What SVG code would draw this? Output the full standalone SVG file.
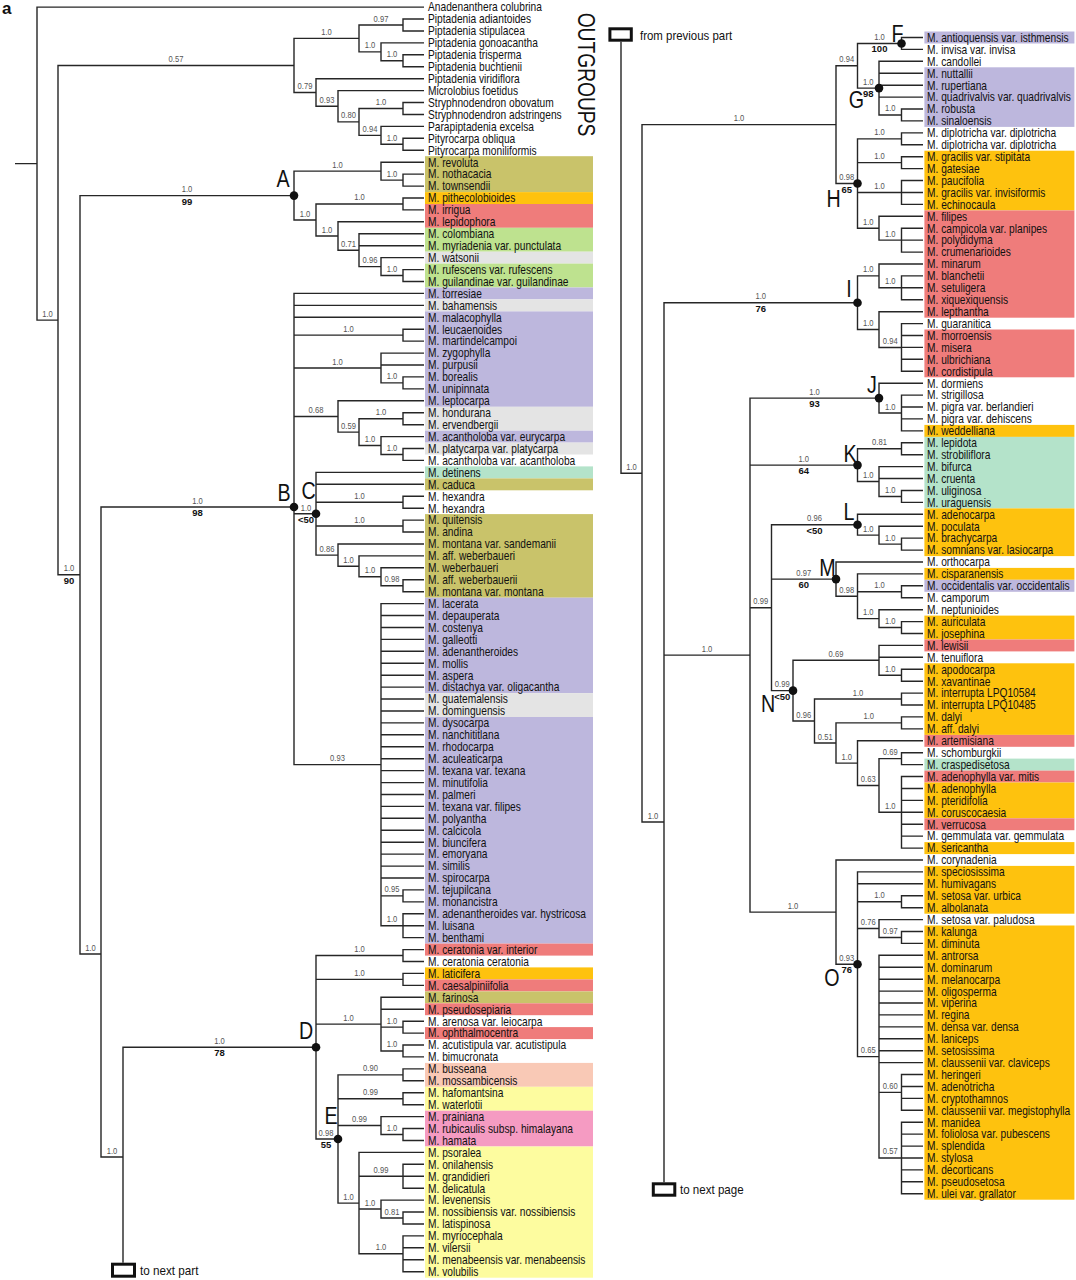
<svg xmlns="http://www.w3.org/2000/svg" width="1076" height="1280" viewBox="0 0 1076 1280">
<style>
.e{fill:none;stroke:#262626;stroke-width:1.4}
.l{font-family:'Liberation Sans',Arial,sans-serif;font-size:12px;fill:#111}
.s{font-family:'Liberation Sans',Arial,sans-serif;font-size:9.5px;fill:#555;text-anchor:middle}
.b{font-family:'Liberation Sans',Arial,sans-serif;font-size:9.5px;font-weight:bold;fill:#111;text-anchor:middle}
.k{font-family:'Liberation Sans',Arial,sans-serif;font-size:24px;fill:#111;text-anchor:middle}
.t{font-family:'Liberation Sans',Arial,sans-serif;font-size:13px;fill:#111}
.box{fill:#fff;stroke:#111;stroke-width:3}
.dot{fill:#111}
.ol{fill:#c9c36a}.or{fill:#fec20e}.rd{fill:#ef7c7b}.gr{fill:#bee28f}.gy{fill:#e4e4e4}.lv{fill:#bdb7dd}.mt{fill:#b4e3ca}.pc{fill:#f9c9b6}.ly{fill:#fdfc9f}.pk{fill:#f59bc2}
</style>
<rect width="1076" height="1280" fill="#fff"/>
<g id="bands">
<rect class="ol" x="425" y="156.2" width="168" height="35.9"/>
<rect class="or" x="425" y="192.1" width="168" height="11.9"/>
<rect class="rd" x="425" y="204" width="168" height="23.8"/>
<rect class="gr" x="425" y="227.8" width="168" height="23.9"/>
<rect class="gy" x="425" y="251.7" width="168" height="11.9"/>
<rect class="gr" x="425" y="263.6" width="168" height="23.9"/>
<rect class="lv" x="425" y="287.5" width="168" height="11.9"/>
<rect class="gy" x="425" y="299.4" width="168" height="12"/>
<rect class="lv" x="425" y="311.4" width="168" height="95.4"/>
<rect class="gy" x="425" y="406.8" width="168" height="23.9"/>
<rect class="lv" x="425" y="430.7" width="168" height="11.9"/>
<rect class="gy" x="425" y="442.6" width="168" height="11.9"/>
<rect class="mt" x="425" y="466.4" width="168" height="12"/>
<rect class="ol" x="425" y="478.4" width="168" height="11.9"/>
<rect class="ol" x="425" y="514.1" width="168" height="83.6"/>
<rect class="lv" x="425" y="597.7" width="168" height="95.4"/>
<rect class="gy" x="425" y="693.1" width="168" height="23.9"/>
<rect class="lv" x="425" y="717" width="168" height="226.6"/>
<rect class="rd" x="425" y="943.6" width="168" height="12"/>
<rect class="or" x="425" y="967.4" width="168" height="12"/>
<rect class="rd" x="425" y="979.4" width="168" height="12"/>
<rect class="ol" x="425" y="991.4" width="168" height="11.9"/>
<rect class="rd" x="425" y="1003.3" width="168" height="11.9"/>
<rect class="rd" x="425" y="1027.1" width="168" height="12"/>
<rect class="pc" x="425" y="1062.9" width="168" height="23.9"/>
<rect class="ly" x="425" y="1086.8" width="168" height="23.9"/>
<rect class="pk" x="425" y="1110.7" width="168" height="35.8"/>
<rect class="ly" x="425" y="1146.5" width="168" height="131.2"/>
<rect class="lv" x="924.4" y="31.5" width="150" height="12"/>
<rect class="lv" x="924.4" y="67.3" width="150" height="59.6"/>
<rect class="or" x="924.4" y="150.7" width="150" height="59.7"/>
<rect class="rd" x="924.4" y="210.4" width="150" height="107.3"/>
<rect class="rd" x="924.4" y="329.5" width="150" height="47.8"/>
<rect class="or" x="924.4" y="424.9" width="150" height="12"/>
<rect class="mt" x="924.4" y="436.9" width="150" height="71.5"/>
<rect class="or" x="924.4" y="508.4" width="150" height="47.7"/>
<rect class="or" x="924.4" y="567.9" width="150" height="11.9"/>
<rect class="lv" x="924.4" y="579.8" width="150" height="12"/>
<rect class="or" x="924.4" y="615.6" width="150" height="23.9"/>
<rect class="rd" x="924.4" y="639.5" width="150" height="11.9"/>
<rect class="or" x="924.4" y="663.3" width="150" height="71.6"/>
<rect class="rd" x="924.4" y="734.9" width="150" height="11.9"/>
<rect class="mt" x="924.4" y="758.6" width="150" height="12"/>
<rect class="rd" x="924.4" y="770.6" width="150" height="11.9"/>
<rect class="or" x="924.4" y="782.5" width="150" height="35.8"/>
<rect class="rd" x="924.4" y="818.3" width="150" height="11.9"/>
<rect class="or" x="924.4" y="842.1" width="150" height="12"/>
<rect class="or" x="924.4" y="865.9" width="150" height="47.8"/>
<rect class="or" x="924.4" y="925.5" width="150" height="274.2"/>
</g>
<g id="connectors" class="e">
<path d="M15,163.6 H37 M424,7.1 H37 V320.15 H58 M294,65.5 H58 V574.8 H80"/>
<path d="M359,38.4 H294 V92.5 H316 M403,25 H359 V51.85 H381 M424,19 H403 V31 H424 M424,42.9 H381 V60.8 H403 M424,54.8 H403 V66.8 H424"/>
<path d="M424,78.7 H316 V106.3 H338 M424,90.6 H338 V121.9 H359 M403,108.5 H359 V135.35 H381 M424,102.5 H403 V114.5 H424 M424,126.4 H381 V144.3 H403 M424,138.3 H403 V150.3 H424"/>
<path d="M294,195.6 H80 V954 H101"/>
<path d="M381,171.15 H294 V219.98 H316 M424,162.2 H381 V180.1 H403 M424,174.1 H403 V186.1 H424 M403,203.95 H316 V236 H338 M424,198 H403 V209.9 H424 M424,221.8 H338 V250.2 H359 M424,233.8 H359 V266.6 H381 M359,245.7 H424 M424,257.6 H381 V275.55 H403 M424,269.6 H403 V281.5 H424"/>
<path d="M294,507 H101 V1157 H123"/>
<path d="M424,293.4 H294 V764.65 H381 M294,305.4 H424 M294,317.3 H424 M294,335.15 H403 M294,368 H381 M294,416.45 H338 M294,513.8 H316"/>
<path d="M424,329.2 H403 V341.1 H424 M424,353.1 H381 V382.9 H403 M381,365 H424 M424,376.9 H403 V388.9 H424"/>
<path d="M424,400.8 H338 V432.1 H359 M403,418.7 H359 V445.5 H381 M424,412.7 H403 V424.7 H424 M424,436.6 H381 V454.45 H403 M424,448.5 H403 V460.4 H424"/>
<path d="M424,472.4 H316 V555.15 H338 M316,484.3 H424 M316,502.2 H403 M316,526.05 H403 M424,496.2 H403 V508.2 H424 M424,520.1 H403 V532 H424 M424,544 H338 V566.3 H359 M424,555.9 H359 V576.75 H381 M424,567.8 H381 V585.7 H403 M424,579.7 H403 V591.7 H424"/>
<path d="M424,603.6 H381 V925.7 H403 M381,615.5 H424 M381,627.5 H424 M381,639.4 H424 M381,651.3 H424 M381,663.3 H424 M381,675.2 H424 M381,687.1 H424 M381,699 H424 M381,711 H424 M381,722.9 H424 M381,734.8 H424 M381,746.8 H424 M381,758.7 H424 M381,770.6 H424 M381,782.6 H424 M381,794.5 H424 M381,806.4 H424 M381,818.3 H424 M381,830.3 H424 M381,842.2 H424 M381,854.1 H424 M381,866.1 H424 M381,878 H424 M381,895.9 H403 M424,889.9 H403 V901.9 H424 M424,913.8 H403 V937.6 H424 M403,925.7 H424"/>
<path d="M316,1047.3 H123 V1262.7"/>
<path d="M403,955.55 H316 V1138.98 H338 M316,979.4 H403 M316,1024.1 H381 M424,949.6 H403 V961.5 H424 M424,973.4 H403 V985.4 H424 M424,997.3 H381 V1050.95 H403 M381,1009.2 H424 M381,1027.15 H403 M424,1021.2 H403 V1033.1 H424 M424,1045 H403 V1056.9 H424"/>
<path d="M403,1074.85 H338 V1203.1 H359 M338,1098.7 H403 M338,1125.55 H381 M424,1068.9 H403 V1080.8 H424 M424,1092.7 H403 V1104.7 H424 M424,1116.6 H381 V1134.5 H403 M424,1128.5 H403 V1140.5 H424"/>
<path d="M424,1152.4 H359 V1253.8 H403 M359,1176.2 H403 M359,1209.05 H381 M424,1164.3 H403 V1188.2 H424 M403,1176.2 H424 M424,1200.1 H381 V1218 H403 M424,1212 H403 V1224 H424 M424,1235.9 H403 V1271.7 H424 M403,1247.8 H424 M403,1259.8 H424"/>
<path d="M621,41.7 V473.3 H642 M836,124.65 H642 V822 H664 M857.5,302.7 H664 V1182.3 M664,655.1 H750"/>
<path d="M857.5,65.8 H836 V183.5 H857.5 M901.5,43.45 H857.5 V88.1 H879 M923,37.5 H901.5 V49.4 H923 M923,61.3 H879 V114.95 H901.5 M879,73.3 H923 M879,85.2 H923 M879,97.1 H923 M923,109 H901.5 V120.9 H923"/>
<path d="M901.5,138.85 H857.5 V228.2 H879 M857.5,162.65 H901.5 M857.5,192.5 H901.5 M923,132.9 H901.5 V144.8 H923 M923,156.7 H901.5 V168.6 H923 M923,180.5 H901.5 V204.4 H923 M901.5,192.5 H923 M923,216.3 H879 V240.1 H901.5 M923,228.2 H901.5 V252.1 H923 M901.5,240.1 H923"/>
<path d="M879,275.9 H857.5 V329.55 H879 M923,264 H879 V287.8 H901.5 M923,275.9 H901.5 V299.7 H923 M901.5,287.8 H923 M923,311.7 H879 V347.45 H901.5 M923,323.6 H901.5 V371.3 H923 M901.5,335.5 H923 M901.5,347.4 H923 M901.5,359.3 H923"/>
<path d="M879,398.1 H750 V912.1 H836 M750,465.1 H857.5 M750,607.7 H771.5"/>
<path d="M923,383.2 H879 V413 H901.5 M923,395.1 H901.5 V430.9 H923 M901.5,407 H923 M901.5,418.9 H923"/>
<path d="M901.5,448.75 H857.5 V481.5 H879 M923,442.8 H901.5 V454.7 H923 M923,466.6 H879 V496.45 H901.5 M879,478.5 H923 M923,490.5 H901.5 V502.4 H923"/>
<path d="M857.5,524.7 H771.5 V690.65 H793 M771.5,579.1 H836 M923,514.3 H857.5 V535.15 H879 M923,526.2 H879 V544.1 H901.5 M923,538.1 H901.5 V550.1 H923"/>
<path d="M923,562 H836 V596.25 H857.5 M923,573.9 H857.5 V618.6 H879 M857.5,591.75 H901.5 M923,585.8 H901.5 V597.7 H923 M923,609.7 H879 V627.55 H901.5 M923,621.6 H901.5 V633.5 H923"/>
<path d="M879,660.3 H793 V721 H814.5 M923,645.4 H879 V675.25 H901.5 M879,657.3 H923 M923,669.3 H901.5 V681.2 H923 M901.5,699.05 H814.5 V743 H836 M923,693.1 H901.5 V705 H923 M901.5,722.9 H836 V763.15 H857.5 M923,716.9 H901.5 V728.9 H923"/>
<path d="M923,740.8 H857.5 V785.5 H879 M901.5,758.65 H879 V812.3 H901.5 M923,752.7 H901.5 V764.6 H923 M923,776.5 H901.5 V848.1 H923 M901.5,788.5 H923 M901.5,800.4 H923 M901.5,812.3 H923 M901.5,824.2 H923 M901.5,836.1 H923"/>
<path d="M923,860 H836 V964.25 H857.5 M923,871.9 H857.5 V1056.6 H879 M857.5,883.8 H923 M857.5,901.7 H901.5 M857.5,928.5 H879 M923,895.7 H901.5 V907.7 H923 M923,919.6 H879 V937.45 H901.5 M923,931.5 H901.5 V943.4 H923"/>
<path d="M923,955.3 H879 V1157.95 H901.5 M879,967.3 H923 M879,979.2 H923 M879,991.1 H923 M879,1003 H923 M879,1014.9 H923 M879,1026.9 H923 M879,1038.8 H923 M879,1050.7 H923 M879,1062.6 H923 M879,1092.4 H901.5 M923,1074.5 H901.5 V1110.3 H923 M901.5,1086.5 H923 M901.5,1098.4 H923 M923,1122.2 H901.5 V1193.7 H923 M901.5,1134.1 H923 M901.5,1146.1 H923 M901.5,1158 H923 M901.5,1169.9 H923 M901.5,1181.8 H923"/>
</g>
<g id="supports">
<text class="s" transform="translate(47.5 316.65) scale(.8 1)">1.0</text>
<text class="s" transform="translate(69 571.3) scale(.8 1)">1.0</text><text class="b" x="69" y="583.8">90</text>
<text class="s" transform="translate(176 62) scale(.8 1)">0.57</text>
<text class="s" transform="translate(326.5 34.9) scale(.8 1)">1.0</text>
<text class="s" transform="translate(381 21.5) scale(.8 1)">0.97</text>
<text class="s" transform="translate(370 48.35) scale(.8 1)">1.0</text>
<text class="s" transform="translate(392 57.3) scale(.8 1)">1.0</text>
<text class="s" transform="translate(305 89) scale(.8 1)">0.79</text>
<text class="s" transform="translate(327 102.8) scale(.8 1)">0.93</text>
<text class="s" transform="translate(348.5 118.4) scale(.8 1)">0.80</text>
<text class="s" transform="translate(381 105) scale(.8 1)">1.0</text>
<text class="s" transform="translate(370 131.85) scale(.8 1)">0.94</text>
<text class="s" transform="translate(392 140.8) scale(.8 1)">1.0</text>
<text class="s" transform="translate(187 192.1) scale(.8 1)">1.0</text><text class="b" x="187" y="204.6">99</text>
<text class="s" transform="translate(337.5 167.65) scale(.8 1)">1.0</text>
<text class="s" transform="translate(392 176.6) scale(.8 1)">1.0</text>
<text class="s" transform="translate(305 216.5) scale(.8 1)">1.0</text>
<text class="s" transform="translate(359.5 200.45) scale(.8 1)">1.0</text>
<text class="s" transform="translate(327 232.5) scale(.8 1)">1.0</text>
<text class="s" transform="translate(348.5 246.7) scale(.8 1)">0.71</text>
<text class="s" transform="translate(370 263.1) scale(.8 1)">0.96</text>
<text class="s" transform="translate(392 272.05) scale(.8 1)">1.0</text>
<text class="s" transform="translate(90.5 950.5) scale(.8 1)">1.0</text>
<text class="s" transform="translate(197.5 503.5) scale(.8 1)">1.0</text><text class="b" x="197.5" y="516">98</text>
<text class="s" transform="translate(348.5 331.65) scale(.8 1)">1.0</text>
<text class="s" transform="translate(337.5 364.5) scale(.8 1)">1.0</text>
<text class="s" transform="translate(392 379.4) scale(.8 1)">1.0</text>
<text class="s" transform="translate(316 412.95) scale(.8 1)">0.68</text>
<text class="s" transform="translate(348.5 428.6) scale(.8 1)">0.59</text>
<text class="s" transform="translate(381 415.2) scale(.8 1)">1.0</text>
<text class="s" transform="translate(370 442) scale(.8 1)">1.0</text>
<text class="s" transform="translate(392 450.95) scale(.8 1)">1.0</text>
<text class="s" transform="translate(306 511) scale(.8 1)">1.0</text><text class="b" x="306" y="523.3">&lt;50</text>
<text class="s" transform="translate(359.5 498.7) scale(.8 1)">1.0</text>
<text class="s" transform="translate(359.5 522.55) scale(.8 1)">1.0</text>
<text class="s" transform="translate(327 551.65) scale(.8 1)">0.86</text>
<text class="s" transform="translate(348.5 562.8) scale(.8 1)">1.0</text>
<text class="s" transform="translate(370 573.25) scale(.8 1)">1.0</text>
<text class="s" transform="translate(392 582.2) scale(.8 1)">0.98</text>
<text class="s" transform="translate(337.5 761.15) scale(.8 1)">0.93</text>
<text class="s" transform="translate(392 892.4) scale(.8 1)">0.95</text>
<text class="s" transform="translate(392 922.2) scale(.8 1)">1.0</text>
<text class="s" transform="translate(112 1153.5) scale(.8 1)">1.0</text>
<text class="s" transform="translate(219.5 1043.8) scale(.8 1)">1.0</text><text class="b" x="219.5" y="1056.3">78</text>
<text class="s" transform="translate(359.5 952.05) scale(.8 1)">1.0</text>
<text class="s" transform="translate(359.5 975.9) scale(.8 1)">1.0</text>
<text class="s" transform="translate(348.5 1020.6) scale(.8 1)">1.0</text>
<text class="s" transform="translate(392 1023.65) scale(.8 1)">1.0</text>
<text class="s" transform="translate(392 1047.45) scale(.8 1)">1.0</text>
<text class="s" transform="translate(326 1136) scale(.8 1)">0.98</text><text class="b" x="326" y="1148.3">55</text>
<text class="s" transform="translate(370.5 1071.35) scale(.8 1)">0.90</text>
<text class="s" transform="translate(370.5 1095.2) scale(.8 1)">0.99</text>
<text class="s" transform="translate(359.5 1122.05) scale(.8 1)">0.99</text>
<text class="s" transform="translate(392 1131) scale(.8 1)">1.0</text>
<text class="s" transform="translate(348.5 1199.6) scale(.8 1)">1.0</text>
<text class="s" transform="translate(381 1172.7) scale(.8 1)">0.99</text>
<text class="s" transform="translate(370 1205.55) scale(.8 1)">1.0</text>
<text class="s" transform="translate(392 1214.5) scale(.8 1)">0.81</text>
<text class="s" transform="translate(381 1250.3) scale(.8 1)">1.0</text>
<text class="s" transform="translate(631.5 469.8) scale(.8 1)">1.0</text>
<text class="s" transform="translate(739 121.15) scale(.8 1)">1.0</text>
<text class="s" transform="translate(653 818.5) scale(.8 1)">1.0</text>
<text class="s" transform="translate(846.75 62.3) scale(.8 1)">0.94</text>
<text class="s" transform="translate(879.5 39.95) scale(.8 1)">1.0</text><text class="b" x="879.5" y="52.45">100</text>
<text class="s" transform="translate(868.25 84.6) scale(.8 1)">1.0</text><text class="b" x="868.25" y="97.1">98</text>
<text class="s" transform="translate(890.25 111.45) scale(.8 1)">1.0</text>
<text class="s" transform="translate(846.75 180) scale(.8 1)">0.98</text><text class="b" x="846.75" y="192.5">65</text>
<text class="s" transform="translate(879.5 135.35) scale(.8 1)">1.0</text>
<text class="s" transform="translate(879.5 159.15) scale(.8 1)">1.0</text>
<text class="s" transform="translate(879.5 189) scale(.8 1)">1.0</text>
<text class="s" transform="translate(868.25 224.7) scale(.8 1)">1.0</text>
<text class="s" transform="translate(890.25 236.6) scale(.8 1)">1.0</text>
<text class="s" transform="translate(760.75 299.2) scale(.8 1)">1.0</text><text class="b" x="760.75" y="311.7">76</text>
<text class="s" transform="translate(868.25 272.4) scale(.8 1)">1.0</text>
<text class="s" transform="translate(890.25 284.3) scale(.8 1)">1.0</text>
<text class="s" transform="translate(868.25 326.05) scale(.8 1)">1.0</text>
<text class="s" transform="translate(890.25 343.95) scale(.8 1)">0.94</text>
<text class="s" transform="translate(707 651.6) scale(.8 1)">1.0</text>
<text class="s" transform="translate(814.5 394.6) scale(.8 1)">1.0</text><text class="b" x="814.5" y="407.1">93</text>
<text class="s" transform="translate(890.25 409.5) scale(.8 1)">1.0</text>
<text class="s" transform="translate(803.75 461.6) scale(.8 1)">1.0</text><text class="b" x="803.75" y="474.1">64</text>
<text class="s" transform="translate(879.5 445.25) scale(.8 1)">0.81</text>
<text class="s" transform="translate(868.25 478) scale(.8 1)">1.0</text>
<text class="s" transform="translate(890.25 492.95) scale(.8 1)">1.0</text>
<text class="s" transform="translate(760.75 604.2) scale(.8 1)">0.99</text>
<text class="s" transform="translate(814.5 521.2) scale(.8 1)">0.96</text><text class="b" x="814.5" y="533.7">&lt;50</text>
<text class="s" transform="translate(868.25 531.65) scale(.8 1)">1.0</text>
<text class="s" transform="translate(890.25 540.6) scale(.8 1)">1.0</text>
<text class="s" transform="translate(803.75 575.6) scale(.8 1)">0.97</text><text class="b" x="803.75" y="588.1">60</text>
<text class="s" transform="translate(846.75 592.75) scale(.8 1)">0.98</text>
<text class="s" transform="translate(879.5 588.25) scale(.8 1)">1.0</text>
<text class="s" transform="translate(868.25 615.1) scale(.8 1)">1.0</text>
<text class="s" transform="translate(890.25 624.05) scale(.8 1)">1.0</text>
<text class="s" transform="translate(782.25 687.15) scale(.8 1)">0.99</text><text class="b" x="782.25" y="699.65">&lt;50</text>
<text class="s" transform="translate(836 656.8) scale(.8 1)">0.69</text>
<text class="s" transform="translate(890.25 671.75) scale(.8 1)">1.0</text>
<text class="s" transform="translate(803.75 717.5) scale(.8 1)">0.96</text>
<text class="s" transform="translate(858 695.55) scale(.8 1)">1.0</text>
<text class="s" transform="translate(825.25 739.5) scale(.8 1)">0.51</text>
<text class="s" transform="translate(868.75 719.4) scale(.8 1)">1.0</text>
<text class="s" transform="translate(846.75 759.65) scale(.8 1)">1.0</text>
<text class="s" transform="translate(868.25 782) scale(.8 1)">0.63</text>
<text class="s" transform="translate(890.25 755.15) scale(.8 1)">0.69</text>
<text class="s" transform="translate(890.25 808.8) scale(.8 1)">1.0</text>
<text class="s" transform="translate(793 908.6) scale(.8 1)">1.0</text>
<text class="s" transform="translate(846.75 960.75) scale(.8 1)">0.93</text><text class="b" x="846.75" y="973.25">76</text>
<text class="s" transform="translate(879.5 898.2) scale(.8 1)">1.0</text>
<text class="s" transform="translate(868.25 925) scale(.8 1)">0.76</text>
<text class="s" transform="translate(890.25 933.95) scale(.8 1)">0.97</text>
<text class="s" transform="translate(868.25 1053.1) scale(.8 1)">0.65</text>
<text class="s" transform="translate(890.25 1088.9) scale(.8 1)">0.60</text>
<text class="s" transform="translate(890.25 1154.45) scale(.8 1)">0.57</text>
</g>
<g id="node-A"><circle class="dot" cx="294" cy="195.6" r="4.3"/><text class="k" transform="translate(283 187) scale(.82 1)">A</text></g>
<g id="node-B"><circle class="dot" cx="294" cy="507" r="4.3"/><text class="k" transform="translate(284 501) scale(.82 1)">B</text></g>
<g id="node-C"><circle class="dot" cx="316" cy="513.8" r="4.3"/><text class="k" transform="translate(308.5 499) scale(.82 1)">C</text></g>
<g id="node-D"><circle class="dot" cx="316" cy="1047.3" r="4.3"/><text class="k" transform="translate(306 1039) scale(.82 1)">D</text></g>
<g id="node-E"><circle class="dot" cx="338" cy="1138.98" r="4.3"/><text class="k" transform="translate(331 1123.5) scale(.82 1)">E</text></g>
<g id="node-F"><circle class="dot" cx="901.5" cy="43.45" r="4.3"/><text class="k" transform="translate(897.6 41.7) scale(.82 1)">F</text></g>
<g id="node-G"><circle class="dot" cx="879" cy="88.1" r="4.3"/><text class="k" transform="translate(856.5 108.3) scale(.82 1)">G</text></g>
<g id="node-H"><circle class="dot" cx="857.5" cy="183.5" r="4.3"/><text class="k" transform="translate(833.5 206.7) scale(.82 1)">H</text></g>
<g id="node-I"><circle class="dot" cx="857.5" cy="302.7" r="4.3"/><text class="k" transform="translate(849 296.7) scale(.82 1)">I</text></g>
<g id="node-J"><circle class="dot" cx="879" cy="398.1" r="4.3"/><text class="k" transform="translate(872 393.3) scale(.82 1)">J</text></g>
<g id="node-K"><circle class="dot" cx="857.5" cy="465.1" r="4.3"/><text class="k" transform="translate(850 461.7) scale(.82 1)">K</text></g>
<g id="node-L"><circle class="dot" cx="857.5" cy="524.7" r="4.3"/><text class="k" transform="translate(849 520) scale(.82 1)">L</text></g>
<g id="node-M"><circle class="dot" cx="836" cy="579.1" r="4.3"/><text class="k" transform="translate(827.5 576) scale(.82 1)">M</text></g>
<g id="node-N"><circle class="dot" cx="793" cy="690.65" r="4.3"/><text class="k" transform="translate(768 711.7) scale(.82 1)">N</text></g>
<g id="node-O"><circle class="dot" cx="857.5" cy="964.25" r="4.3"/><text class="k" transform="translate(832 985.7) scale(.82 1)">O</text></g>
<g id="panel-label"><text x="2" y="14" style="font-family:'Liberation Sans',Arial,sans-serif;font-size:17px;font-weight:bold;fill:#111">a</text></g>
<g id="outgroups-label"><text transform="translate(578 12.7) rotate(90) scale(.8 1)" style="font-family:'Liberation Sans',Arial,sans-serif;font-size:24px;fill:#111">OUTGROUPS</text></g>
<g id="from-previous"><rect class="box" x="609.9" y="28.8" width="21.4" height="11.4"/><text class="t" transform="translate(640 39.5) scale(.88 1)">from previous part</text></g>
<g id="to-next-part"><rect class="box" x="112.5" y="1264.2" width="22" height="12"/><text class="t" transform="translate(140 1275) scale(.9 1)">to next part</text></g>
<g id="to-next-page"><rect class="box" x="653.3" y="1183.8" width="21.5" height="11.4"/><text class="t" transform="translate(680 1194) scale(.89 1)">to next page</text></g>
<g class="l" transform="translate(428 0) scale(.85 1)">
<g id="L0"><text y="11.5">Anadenanthera colubrina</text></g>
<g id="L1"><text y="23.4">Piptadenia adiantoides</text></g>
<g id="L2"><text y="35.4">Piptadenia stipulacea</text></g>
<g id="L3"><text y="47.3">Piptadenia gonoacantha</text></g>
<g id="L4"><text y="59.2">Piptadenia trisperma</text></g>
<g id="L5"><text y="71.2">Piptadenia buchtienii</text></g>
<g id="L6"><text y="83.1">Piptadenia viridiflora</text></g>
<g id="L7"><text y="95">Microlobius foetidus</text></g>
<g id="L8"><text y="106.9">Stryphnodendron obovatum</text></g>
<g id="L9"><text y="118.9">Stryphnodendron adstringens</text></g>
<g id="L10"><text y="130.8">Parapiptadenia excelsa</text></g>
<g id="L11"><text y="142.7">Pityrocarpa obliqua</text></g>
<g id="L12"><text y="154.7">Pityrocarpa moniliformis</text></g>
<g id="L13"><text y="166.6">M. revoluta</text></g>
<g id="L14"><text y="178.5">M. nothacacia</text></g>
<g id="L15"><text y="190.5">M. townsendii</text></g>
<g id="L16"><text y="202.4">M. pithecolobioides</text></g>
<g id="L17"><text y="214.3">M. irrigua</text></g>
<g id="L18"><text y="226.2">M. lepidophora</text></g>
<g id="L19"><text y="238.2">M. colombiana</text></g>
<g id="L20"><text y="250.1">M. myriadenia var. punctulata</text></g>
<g id="L21"><text y="262">M. watsonii</text></g>
<g id="L22"><text y="274">M. rufescens var. rufescens</text></g>
<g id="L23"><text y="285.9">M. guilandinae var. guilandinae</text></g>
<g id="L24"><text y="297.8">M. torresiae</text></g>
<g id="L25"><text y="309.8">M. bahamensis</text></g>
<g id="L26"><text y="321.7">M. malacophylla</text></g>
<g id="L27"><text y="333.6">M. leucaenoides</text></g>
<g id="L28"><text y="345.5">M. martindelcampoi</text></g>
<g id="L29"><text y="357.5">M. zygophylla</text></g>
<g id="L30"><text y="369.4">M. purpusii</text></g>
<g id="L31"><text y="381.3">M. borealis</text></g>
<g id="L32"><text y="393.3">M. unipinnata</text></g>
<g id="L33"><text y="405.2">M. leptocarpa</text></g>
<g id="L34"><text y="417.1">M. hondurana</text></g>
<g id="L35"><text y="429.1">M. ervendbergii</text></g>
<g id="L36"><text y="441">M. acantholoba var. eurycarpa</text></g>
<g id="L37"><text y="452.9">M. platycarpa var. platycarpa</text></g>
<g id="L38"><text y="464.8">M. acantholoba var. acantholoba</text></g>
<g id="L39"><text y="476.8">M. detinens</text></g>
<g id="L40"><text y="488.7">M. caduca</text></g>
<g id="L41"><text y="500.6">M. hexandra</text></g>
<g id="L42"><text y="512.6">M. hexandra</text></g>
<g id="L43"><text y="524.5">M. quitensis</text></g>
<g id="L44"><text y="536.4">M. andina</text></g>
<g id="L45"><text y="548.4">M. montana var. sandemanii</text></g>
<g id="L46"><text y="560.3">M. aff. weberbaueri</text></g>
<g id="L47"><text y="572.2">M. weberbaueri</text></g>
<g id="L48"><text y="584.1">M. aff. weberbauerii</text></g>
<g id="L49"><text y="596.1">M. montana var. montana</text></g>
<g id="L50"><text y="608">M. lacerata</text></g>
<g id="L51"><text y="619.9">M. depauperata</text></g>
<g id="L52"><text y="631.9">M. costenya</text></g>
<g id="L53"><text y="643.8">M. galleotti</text></g>
<g id="L54"><text y="655.7">M. adenantheroides</text></g>
<g id="L55"><text y="667.7">M. mollis</text></g>
<g id="L56"><text y="679.6">M. aspera</text></g>
<g id="L57"><text y="691.5">M. distachya var. oligacantha</text></g>
<g id="L58"><text y="703.4">M. guatemalensis</text></g>
<g id="L59"><text y="715.4">M. dominguensis</text></g>
<g id="L60"><text y="727.3">M. dysocarpa</text></g>
<g id="L61"><text y="739.2">M. nanchititlana</text></g>
<g id="L62"><text y="751.2">M. rhodocarpa</text></g>
<g id="L63"><text y="763.1">M. aculeaticarpa</text></g>
<g id="L64"><text y="775">M. texana var. texana</text></g>
<g id="L65"><text y="787">M. minutifolia</text></g>
<g id="L66"><text y="798.9">M. palmeri</text></g>
<g id="L67"><text y="810.8">M. texana var. filipes</text></g>
<g id="L68"><text y="822.7">M. polyantha</text></g>
<g id="L69"><text y="834.7">M. calcicola</text></g>
<g id="L70"><text y="846.6">M. biuncifera</text></g>
<g id="L71"><text y="858.5">M. emoryana</text></g>
<g id="L72"><text y="870.5">M. similis</text></g>
<g id="L73"><text y="882.4">M. spirocarpa</text></g>
<g id="L74"><text y="894.3">M. tejupilcana</text></g>
<g id="L75"><text y="906.3">M. monancistra</text></g>
<g id="L76"><text y="918.2">M. adenantheroides var. hystricosa</text></g>
<g id="L77"><text y="930.1">M. luisana</text></g>
<g id="L78"><text y="942">M. benthami</text></g>
<g id="L79"><text y="954">M. ceratonia var. interior</text></g>
<g id="L80"><text y="965.9">M. ceratonia ceratonia</text></g>
<g id="L81"><text y="977.8">M. laticifera</text></g>
<g id="L82"><text y="989.8">M. caesalpiniifolia</text></g>
<g id="L83"><text y="1001.7">M. farinosa</text></g>
<g id="L84"><text y="1013.6">M. pseudosepiaria</text></g>
<g id="L85"><text y="1025.6">M. arenosa var. leiocarpa</text></g>
<g id="L86"><text y="1037.5">M. ophthalmocentra</text></g>
<g id="L87"><text y="1049.4">M. acutistipula var. acutistipula</text></g>
<g id="L88"><text y="1061.3">M. bimucronata</text></g>
<g id="L89"><text y="1073.3">M. busseana</text></g>
<g id="L90"><text y="1085.2">M. mossambicensis</text></g>
<g id="L91"><text y="1097.1">M. hafomantsina</text></g>
<g id="L92"><text y="1109.1">M. waterlotii</text></g>
<g id="L93"><text y="1121">M. prainiana</text></g>
<g id="L94"><text y="1132.9">M. rubicaulis subsp. himalayana</text></g>
<g id="L95"><text y="1144.9">M. hamata</text></g>
<g id="L96"><text y="1156.8">M. psoralea</text></g>
<g id="L97"><text y="1168.7">M. onilahensis</text></g>
<g id="L98"><text y="1180.6">M. grandidieri</text></g>
<g id="L99"><text y="1192.6">M. delicatula</text></g>
<g id="L100"><text y="1204.5">M. levenensis</text></g>
<g id="L101"><text y="1216.4">M. nossibiensis var. nossibiensis</text></g>
<g id="L102"><text y="1228.4">M. latispinosa</text></g>
<g id="L103"><text y="1240.3">M. myriocephala</text></g>
<g id="L104"><text y="1252.2">M. vilersii</text></g>
<g id="L105"><text y="1264.2">M. menabeensis var. menabeensis</text></g>
<g id="L106"><text y="1276.1">M. volubilis</text></g>
</g>
<g class="l" transform="translate(927 0) scale(.85 1)">
<g id="R0"><text y="41.9">M. antioquensis var. isthmensis</text></g>
<g id="R1"><text y="53.8">M. invisa var. invisa</text></g>
<g id="R2"><text y="65.7">M. candollei</text></g>
<g id="R3"><text y="77.7">M. nuttallii</text></g>
<g id="R4"><text y="89.6">M. rupertiana</text></g>
<g id="R5"><text y="101.5">M. quadrivalvis var. quadrivalvis</text></g>
<g id="R6"><text y="113.4">M. robusta</text></g>
<g id="R7"><text y="125.3">M. sinaloensis</text></g>
<g id="R8"><text y="137.3">M. diplotricha var. diplotricha</text></g>
<g id="R9"><text y="149.2">M. diplotricha var. diplotricha</text></g>
<g id="R10"><text y="161.1">M. gracilis var. stipitata</text></g>
<g id="R11"><text y="173">M. gatesiae</text></g>
<g id="R12"><text y="184.9">M. paucifolia</text></g>
<g id="R13"><text y="196.9">M. gracilis var. invisiformis</text></g>
<g id="R14"><text y="208.8">M. echinocaula</text></g>
<g id="R15"><text y="220.7">M. filipes</text></g>
<g id="R16"><text y="232.6">M. campicola var. planipes</text></g>
<g id="R17"><text y="244.5">M. polydidyma</text></g>
<g id="R18"><text y="256.5">M. crumenarioides</text></g>
<g id="R19"><text y="268.4">M. minarum</text></g>
<g id="R20"><text y="280.3">M. blanchetii</text></g>
<g id="R21"><text y="292.2">M. setuligera</text></g>
<g id="R22"><text y="304.1">M. xiquexiquensis</text></g>
<g id="R23"><text y="316.1">M. lepthantha</text></g>
<g id="R24"><text y="328">M. guaranitica</text></g>
<g id="R25"><text y="339.9">M. morroensis</text></g>
<g id="R26"><text y="351.8">M. misera</text></g>
<g id="R27"><text y="363.7">M. ulbrichiana</text></g>
<g id="R28"><text y="375.7">M. cordistipula</text></g>
<g id="R29"><text y="387.6">M. dormiens</text></g>
<g id="R30"><text y="399.5">M. strigillosa</text></g>
<g id="R31"><text y="411.4">M. pigra var. berlandieri</text></g>
<g id="R32"><text y="423.3">M. pigra var. dehiscens</text></g>
<g id="R33"><text y="435.3">M. weddelliana</text></g>
<g id="R34"><text y="447.2">M. lepidota</text></g>
<g id="R35"><text y="459.1">M. strobiliflora</text></g>
<g id="R36"><text y="471">M. bifurca</text></g>
<g id="R37"><text y="482.9">M. cruenta</text></g>
<g id="R38"><text y="494.9">M. uliginosa</text></g>
<g id="R39"><text y="506.8">M. uraguensis</text></g>
<g id="R40"><text y="518.7">M. adenocarpa</text></g>
<g id="R41"><text y="530.6">M. poculata</text></g>
<g id="R42"><text y="542.5">M. brachycarpa</text></g>
<g id="R43"><text y="554.5">M. somnians var. lasiocarpa</text></g>
<g id="R44"><text y="566.4">M. orthocarpa</text></g>
<g id="R45"><text y="578.3">M. cisparanensis</text></g>
<g id="R46"><text y="590.2">M. occidentalis var. occidentalis</text></g>
<g id="R47"><text y="602.1">M. camporum</text></g>
<g id="R48"><text y="614.1">M. neptunioides</text></g>
<g id="R49"><text y="626">M. auriculata</text></g>
<g id="R50"><text y="637.9">M. josephina</text></g>
<g id="R51"><text y="649.8">M. lewisii</text></g>
<g id="R52"><text y="661.7">M. tenuiflora</text></g>
<g id="R53"><text y="673.7">M. apodocarpa</text></g>
<g id="R54"><text y="685.6">M. xavantinae</text></g>
<g id="R55"><text y="697.5">M. interrupta LPQ10584</text></g>
<g id="R56"><text y="709.4">M. interrupta LPQ10485</text></g>
<g id="R57"><text y="721.3">M. dalyi</text></g>
<g id="R58"><text y="733.3">M. aff. dalyi</text></g>
<g id="R59"><text y="745.2">M. artemisiana</text></g>
<g id="R60"><text y="757.1">M. schomburgkii</text></g>
<g id="R61"><text y="769">M. craspedisetosa</text></g>
<g id="R62"><text y="780.9">M. adenophylla var. mitis</text></g>
<g id="R63"><text y="792.9">M. adenophylla</text></g>
<g id="R64"><text y="804.8">M. pteridifolia</text></g>
<g id="R65"><text y="816.7">M. coruscocaesia</text></g>
<g id="R66"><text y="828.6">M. verrucosa</text></g>
<g id="R67"><text y="840.5">M. gemmulata var. gemmulata</text></g>
<g id="R68"><text y="852.5">M. sericantha</text></g>
<g id="R69"><text y="864.4">M. corynadenia</text></g>
<g id="R70"><text y="876.3">M. speciosissima</text></g>
<g id="R71"><text y="888.2">M. humivagans</text></g>
<g id="R72"><text y="900.1">M. setosa var. urbica</text></g>
<g id="R73"><text y="912.1">M. albolanata</text></g>
<g id="R74"><text y="924">M. setosa var. paludosa</text></g>
<g id="R75"><text y="935.9">M. kalunga</text></g>
<g id="R76"><text y="947.8">M. diminuta</text></g>
<g id="R77"><text y="959.7">M. antrorsa</text></g>
<g id="R78"><text y="971.7">M. dominarum</text></g>
<g id="R79"><text y="983.6">M. melanocarpa</text></g>
<g id="R80"><text y="995.5">M. oligosperma</text></g>
<g id="R81"><text y="1007.4">M. viperina</text></g>
<g id="R82"><text y="1019.3">M. regina</text></g>
<g id="R83"><text y="1031.3">M. densa var. densa</text></g>
<g id="R84"><text y="1043.2">M. laniceps</text></g>
<g id="R85"><text y="1055.1">M. setosissima</text></g>
<g id="R86"><text y="1067">M. claussenii var. claviceps</text></g>
<g id="R87"><text y="1078.9">M. heringeri</text></g>
<g id="R88"><text y="1090.9">M. adenotricha</text></g>
<g id="R89"><text y="1102.8">M. cryptothamnos</text></g>
<g id="R90"><text y="1114.7">M. claussenii var. megistophylla</text></g>
<g id="R91"><text y="1126.6">M. manidea</text></g>
<g id="R92"><text y="1138.5">M. foliolosa var. pubescens</text></g>
<g id="R93"><text y="1150.5">M. splendida</text></g>
<g id="R94"><text y="1162.4">M. stylosa</text></g>
<g id="R95"><text y="1174.3">M. decorticans</text></g>
<g id="R96"><text y="1186.2">M. pseudosetosa</text></g>
<g id="R97"><text y="1198.1">M. ulei var. grallator</text></g>
</g>
</svg>
